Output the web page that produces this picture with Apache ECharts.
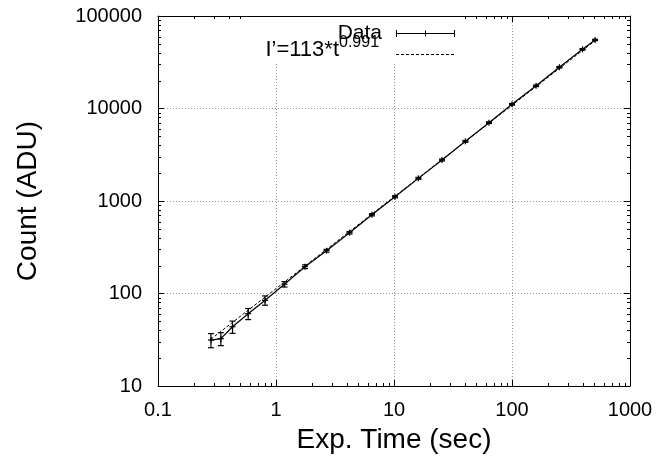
<!DOCTYPE html>
<html>
<head>
<meta charset="utf-8">
<script src="https://cdn.jsdelivr.net/npm/echarts@6/dist/echarts.min.js"></script>
<style>html,body{margin:0;padding:0;background:#fff}#c{width:659px;height:461px}</style>
</head>
<body>
<div id="c"></div>
<script>
// Data
const expTime = [0.281, 0.341, 0.428, 0.581, 0.808, 1.18, 1.76, 2.68, 4.2, 6.5, 10.2, 16.1, 25.5, 40.3, 63.8, 100, 160, 252, 396, 506];
const counts  = [31.4, 32.5, 43.7, 60.5, 84.4, 126, 195, 290, 454, 711, 1112, 1757, 2773, 4415, 7030, 11100, 17600, 27900, 43600, 55100];
const countErr = [5.5, 5.2, 6.6, 8.3, 9.7, 8.5, 9, 10, 14, 20, 30, 45, 65, 100, 150, 230, 350, 550, 850, 1000];
// Fit line I' = 113 * t^0.991, endpoints over the data range
const fitT = [0.281, 506];
const fitI = [32.1, 54100];

const xTicks = [0.1, 1, 10, 100, 1000];
const xTickLabels = ['0.1', '1', '10', '100', '1000'];
const yTicks = [10, 100, 1000, 10000, 100000];
const yTickLabels = ['10', '100', '1000', '10000', '100000'];

const xTitle = 'Exp. Time (sec)';
const yTitle = 'Count (ADU)';
const legendData = 'Data';
const legendFit = 'I\u2019=113*t';
const legendFitExp = '0.991';

const FONT = '"Liberation Sans", Arial, Helvetica, sans-serif';

function fmt(ticks, labels) {
  return function (v) {
    const i = ticks.findIndex(t => Math.abs(Math.log10(t) - Math.log10(v)) < 1e-6);
    return i >= 0 ? labels[i] : '';
  };
}

// minor tick values (2..9 within each decade)
function minorVals(ticks) {
  const out = [];
  for (let k = 0; k < ticks.length - 1; k++) {
    for (let m = 2; m <= 9; m++) out.push(ticks[k] * m);
  }
  return out;
}
const xMinor = minorVals(xTicks);
const yMinor = minorVals(yTicks);

const axisCommon = {
  type: 'log',
  logBase: 10,
  axisLine: { show: true, lineStyle: { color: '#000', width: 1 } },
  axisTick: { show: true, inside: true, length: 6, lineStyle: { color: '#000', width: 1 } },
  minorTick: { show: false },
};

const chart = echarts.init(document.getElementById('c'), null, { renderer: 'canvas' });

const option = {
  animation: false,
  backgroundColor: '#fff',
  grid: { left: 158, right: 29, top: 16, bottom: 75, containLabel: false },
  xAxis: [
    Object.assign({}, axisCommon, {
      position: 'bottom',
      min: xTicks[0], max: xTicks[xTicks.length - 1],
      axisLabel: { show: true, formatter: fmt(xTicks, xTickLabels), color: '#000', fontSize: 20, fontFamily: FONT, margin: 14 },
      splitLine: { show: true, lineStyle: { color: '#999', width: 1, type: [1, 2] } },
      name: xTitle, nameLocation: 'middle', nameGap: 40,
      nameTextStyle: { color: '#000', fontSize: 28, fontFamily: FONT },
    }),
    Object.assign({}, axisCommon, {
      position: 'top',
      min: xTicks[0], max: xTicks[xTicks.length - 1],
      axisLabel: { show: false },
      splitLine: { show: false },
    }),
  ],
  yAxis: [
    Object.assign({}, axisCommon, {
      position: 'left',
      min: yTicks[0], max: yTicks[yTicks.length - 1],
      axisLabel: { show: true, formatter: fmt(yTicks, yTickLabels), color: '#000', fontSize: 20, fontFamily: FONT, margin: 16 },
      splitLine: { show: true, lineStyle: { color: '#999', width: 1, type: [1, 2] } },
      name: yTitle, nameLocation: 'middle', nameGap: 116,
      nameTextStyle: { color: '#000', fontSize: 28, fontFamily: FONT },
    }),
    Object.assign({}, axisCommon, {
      position: 'right',
      min: yTicks[0], max: yTicks[yTicks.length - 1],
      axisLabel: { show: false },
      splitLine: { show: false },
    }),
  ],
  series: [
    {
      // minor ticks on all four sides
      type: 'custom',
      xAxisIndex: 0, yAxisIndex: 0,
      data: [[1, 100]],
      silent: true,
      z: 5,
      renderItem: function (params, api) {
        const cs = params.coordSys;
        const L = cs.x, T = cs.y, R = cs.x + cs.width, B = cs.y + cs.height;
        const len = 3;
        const children = [];
        const st = { stroke: '#000', lineWidth: 1 };
        xMinor.forEach(v => {
          const px = Math.round(api.coord([v, 100])[0]) + 0.5;
          children.push({ type: 'line', shape: { x1: px, y1: B, x2: px, y2: B - len }, style: st });
          children.push({ type: 'line', shape: { x1: px, y1: T, x2: px, y2: T + len }, style: st });
        });
        yMinor.forEach(v => {
          const py = Math.round(api.coord([1, v])[1]) + 0.5;
          children.push({ type: 'line', shape: { x1: L, y1: py, x2: L + len, y2: py }, style: st });
          children.push({ type: 'line', shape: { x1: R, y1: py, x2: R - len, y2: py }, style: st });
        });
        return { type: 'group', children: children };
      },
    },
    {
      name: 'fit',
      type: 'line',
      xAxisIndex: 0, yAxisIndex: 0,
      data: fitT.map((t, i) => [t, fitI[i]]),
      showSymbol: false,
      lineStyle: { color: '#000', width: 1, type: [3, 2] },
      z: 3,
    },
    {
      name: 'data',
      type: 'line',
      xAxisIndex: 0, yAxisIndex: 0,
      data: expTime.map((t, i) => [t, counts[i]]),
      showSymbol: false,
      lineStyle: { color: '#000', width: 1.2 },
      z: 4,
    },
    {
      // error bars and '+' markers
      type: 'custom',
      xAxisIndex: 0, yAxisIndex: 0,
      data: expTime.map((t, i) => [t, counts[i], countErr[i]]),
      encode: { x: 0, y: 1 },
      z: 6,
      renderItem: function (params, api) {
        const x = api.value(0), y = api.value(1), e = api.value(2);
        const p = api.coord([x, y]);
        const hi = api.coord([x, y + e]);
        const lo = api.coord([x, y - e]);
        const cap = 3, m = 3;
        const st = { stroke: '#000', lineWidth: 1.2 };
        return {
          type: 'group',
          children: [
            { type: 'line', shape: { x1: p[0], y1: lo[1], x2: p[0], y2: hi[1] }, style: st },
            { type: 'line', shape: { x1: p[0] - cap, y1: lo[1], x2: p[0] + cap, y2: lo[1] }, style: st },
            { type: 'line', shape: { x1: p[0] - cap, y1: hi[1], x2: p[0] + cap, y2: hi[1] }, style: st },
            { type: 'line', shape: { x1: p[0] - m, y1: p[1], x2: p[0] + m, y2: p[1] }, style: st },
            { type: 'line', shape: { x1: p[0], y1: p[1] - m, x2: p[0], y2: p[1] + m }, style: st },
          ],
        };
      },
    },
  ],
  graphic: [
    { type: 'rect', shape: { x: 248, y: 17, width: 216, height: 45 }, style: { fill: '#fff' }, z: 10 },
    { type: 'text', x: 382, y: 33, style: { text: legendData, font: '21px ' + FONT, fill: '#000', textAlign: 'right', textVerticalAlign: 'middle' }, z: 11 },
    { type: 'line', shape: { x1: 396, y1: 33.5, x2: 455, y2: 33.5 }, style: { stroke: '#000', lineWidth: 1 }, z: 11 },
    { type: 'line', shape: { x1: 396.5, y1: 30, x2: 396.5, y2: 37 }, style: { stroke: '#000', lineWidth: 1 }, z: 11 },
    { type: 'line', shape: { x1: 454.5, y1: 30, x2: 454.5, y2: 37 }, style: { stroke: '#000', lineWidth: 1 }, z: 11 },
    { type: 'line', shape: { x1: 425.5, y1: 30.5, x2: 425.5, y2: 36.5 }, style: { stroke: '#000', lineWidth: 1 }, z: 11 },
    { type: 'text', x: 339, y: 50, style: { text: legendFit, font: '22px ' + FONT, fill: '#000', textAlign: 'right', textVerticalAlign: 'middle' }, z: 11 },
    { type: 'text', x: 339, y: 43, style: { text: legendFitExp, font: '16px ' + FONT, fill: '#000', textAlign: 'left', textVerticalAlign: 'middle' }, z: 11 },
    { type: 'line', shape: { x1: 396, y1: 54.5, x2: 455, y2: 54.5 }, style: { stroke: '#000', lineWidth: 1, lineDash: [3, 2] }, z: 11 },
  ],
};

chart.setOption(option);
</script>
</body>
</html>
